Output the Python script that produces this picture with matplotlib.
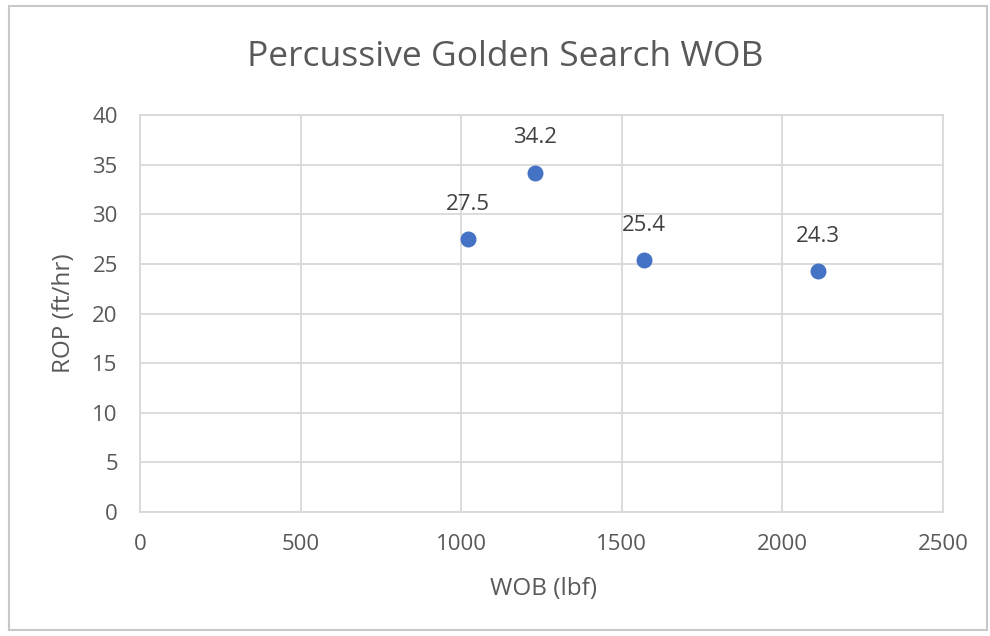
import matplotlib
matplotlib.use('Agg')
import matplotlib.pyplot as plt
from matplotlib.patches import Rectangle

# WOB sweep results
wob = [1020, 1230, 1570, 2110]
rop = [27.5, 34.2, 25.4, 24.3]
x_ticks = [0, 500, 1000, 1500, 2000, 2500]
y_ticks = [0, 5, 10, 15, 20, 25, 30, 35, 40]

text_color = '#595959'
grid_color = '#D9D9D9'
plt.rcParams['font.family'] = ['Open Sans', 'DejaVu Sans']

fig = plt.figure(figsize=(9.9, 6.36), dpi=100)
ax = fig.add_axes([140 / 990, 1 - 512 / 636, 803 / 990, 397 / 636])

# chart frame
fig.patches.append(Rectangle((9 / 990, 6 / 636), 978 / 990, 624 / 636,
                             transform=fig.transFigure, fill=False,
                             edgecolor='#C8C8C8', linewidth=1.5))

ax.scatter(wob, rop, s=110, color='#4472C4', zorder=3)
for x, y in zip(wob, rop):
    ax.annotate(f'{y}', (x, y), xytext=(0, 25), textcoords='offset points',
                ha='center', va='center', fontsize=16, color='#404040')

ax.set_xlim(0, 2500)
ax.set_ylim(0, 40)
ax.set_xticks(x_ticks)
ax.set_yticks(y_ticks)
ax.grid(True, color=grid_color, linewidth=1.3)
ax.set_axisbelow(True)
for s in ax.spines.values():
    s.set_color(grid_color)
    s.set_linewidth(1.3)
ax.tick_params(length=0, labelsize=16, colors=text_color, pad=16)

ax.set_xlabel('WOB (lbf)', fontsize=17.5, color=text_color, va='center')
ax.set_ylabel('ROP (ft/hr)', fontsize=17.5, color=text_color, va='center')
ax.xaxis.set_label_coords(0.5 + (543 - 541.5) / 803, -(589 - 512) / 397)
ax.yaxis.set_label_coords(-(140 - 64) / 803, 0.5 + (512 - 313 - 198.5) / 397)
fig.text(505 / 990, 1 - 57 / 636, 'Percussive Golden Search WOB',
         ha='center', va='center', fontsize=25.5, color=text_color)

fig.savefig('out.png', dpi=100)
